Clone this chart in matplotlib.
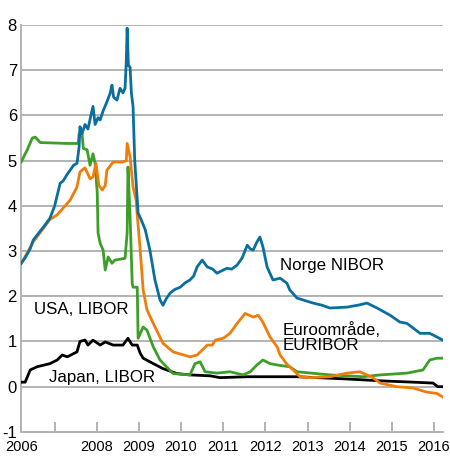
import numpy as np
import matplotlib.pyplot as plt

plt.rcParams['font.family'] = ['Liberation Sans', 'DejaVu Sans']
plt.rcParams['axes.unicode_minus'] = False

# decimal years / percent
nibor_x = [2006.205, 2006.30, 2006.42, 2006.49, 2006.58, 2006.75, 2006.89, 2007.00, 2007.13, 2007.20,
           2007.30, 2007.45, 2007.53, 2007.58, 2007.60, 2007.65, 2007.72, 2007.79, 2007.86, 2007.91,
           2007.96, 2008.03, 2008.08, 2008.15, 2008.24, 2008.32, 2008.36, 2008.40, 2008.48, 2008.55,
           2008.62, 2008.67, 2008.70, 2008.72, 2008.75, 2008.79, 2008.82, 2008.86, 2008.90, 2008.93,
           2008.96, 2008.98, 2009.05, 2009.15, 2009.26, 2009.38, 2009.50, 2009.57, 2009.65, 2009.74,
           2009.85, 2009.98, 2010.10, 2010.21, 2010.30, 2010.38, 2010.50, 2010.62, 2010.75, 2010.85,
           2011.00, 2011.09, 2011.20, 2011.33, 2011.45, 2011.57, 2011.64, 2011.71, 2011.80, 2011.87,
           2011.94, 2012.04, 2012.18, 2012.35, 2012.51, 2012.58, 2012.75, 2013.13, 2013.35, 2013.53,
           2013.94, 2014.24, 2014.41, 2014.65, 2014.96, 2015.19, 2015.36, 2015.67, 2015.90, 2016.07,
           2016.21]
nibor_y = [2.73, 2.85, 3.05, 3.24, 3.35, 3.55, 3.73, 4.00, 4.50, 4.55,
           4.70, 4.90, 4.94, 5.30, 5.75, 5.60, 5.80, 5.70, 6.00, 6.20,
           5.80, 5.95, 5.90, 6.10, 6.30, 6.50, 6.67, 6.40, 6.34, 6.60,
           6.50, 6.60, 7.20, 7.93, 7.10, 7.07, 6.50, 6.20, 5.00, 4.57,
           4.13, 3.84, 3.70, 3.47, 3.02, 2.36, 1.92, 1.80, 1.95, 2.07,
           2.15, 2.20, 2.30, 2.36, 2.45, 2.65, 2.80, 2.65, 2.60, 2.51,
           2.58, 2.62, 2.60, 2.69, 2.85, 3.13, 3.05, 3.02, 3.20, 3.31,
           3.10, 2.65, 2.36, 2.40, 2.29, 2.14, 1.96, 1.85, 1.80, 1.74,
           1.76, 1.81, 1.85, 1.74, 1.58, 1.43, 1.40, 1.18, 1.18, 1.10,
           1.03]

euribor_x = [2006.205, 2006.49, 2006.89, 2007.06, 2007.37, 2007.53, 2007.60, 2007.72, 2007.84, 2007.91,
             2007.98, 2008.05, 2008.13, 2008.20, 2008.24, 2008.39, 2008.62, 2008.70, 2008.72, 2008.79,
             2008.86, 2008.93, 2009.03, 2009.10, 2009.19, 2009.34, 2009.57, 2009.81, 2010.21, 2010.38,
             2010.50, 2010.62, 2010.74, 2010.81, 2011.00, 2011.16, 2011.33, 2011.52, 2011.71, 2011.83,
             2011.94, 2012.11, 2012.28, 2012.35, 2012.51, 2012.66, 2012.82, 2013.06, 2013.53, 2013.94,
             2014.24, 2014.41, 2014.55, 2014.72, 2015.12, 2015.50, 2015.83, 2016.07, 2016.21]
euribor_y = [2.72, 3.20, 3.70, 3.80, 4.13, 4.42, 4.75, 4.84, 4.60, 4.64,
             4.94, 4.45, 4.35, 4.45, 4.79, 4.97, 4.97, 5.00, 5.38, 5.08,
             4.42, 4.13, 3.02, 2.14, 1.70, 1.40, 0.96, 0.77, 0.66, 0.70,
             0.81, 0.92, 0.92, 1.03, 1.07, 1.18, 1.40, 1.62, 1.54, 1.58,
             1.43, 1.10, 0.88, 0.70, 0.50, 0.37, 0.22, 0.20, 0.22, 0.30,
             0.33, 0.26, 0.20, 0.08, 0.00, -0.03, -0.12, -0.15, -0.23]

usa_x = [2006.205, 2006.35, 2006.47, 2006.54, 2006.66, 2007.30, 2007.56, 2007.58, 2007.65, 2007.68,
         2007.77, 2007.84, 2007.91, 2007.96, 2008.01, 2008.03, 2008.08, 2008.15, 2008.20, 2008.27,
         2008.36, 2008.43, 2008.67, 2008.72, 2008.74, 2008.79, 2008.84, 2008.86, 2008.96, 2008.98,
         2009.10, 2009.19, 2009.34, 2009.50, 2009.81, 2010.21, 2010.33, 2010.45, 2010.57, 2010.85,
         2011.16, 2011.47, 2011.64, 2011.80, 2011.94, 2012.11, 2012.28, 2012.58, 2012.75, 2013.53,
         2014.32, 2014.72, 2015.36, 2015.74, 2015.90, 2016.07, 2016.21]
usa_y = [4.97, 5.24, 5.50, 5.52, 5.40, 5.38, 5.38, 5.60, 5.60, 5.27,
         5.24, 4.90, 5.15, 4.94, 4.30, 3.40, 3.17, 3.02, 2.58, 2.87,
         2.73, 2.80, 2.84, 3.40, 4.86, 3.75, 2.29, 2.20, 2.20, 1.07,
         1.32, 1.25, 0.88, 0.59, 0.29, 0.26, 0.51, 0.55, 0.33, 0.30,
         0.33, 0.26, 0.33, 0.48, 0.59, 0.51, 0.48, 0.44, 0.33, 0.26,
         0.22, 0.26, 0.30, 0.37, 0.59, 0.63, 0.63]

japan_x = [2006.205, 2006.30, 2006.42, 2006.58, 2006.89, 2007.06, 2007.18, 2007.30, 2007.53, 2007.60,
           2007.72, 2007.79, 2007.91, 2008.08, 2008.20, 2008.39, 2008.62, 2008.74, 2008.84, 2008.96,
           2009.03, 2009.10, 2009.34, 2009.57, 2009.90, 2010.21, 2010.69, 2010.92, 2011.57, 2012.75,
           2013.94, 2014.72, 2015.50, 2015.98, 2016.09, 2016.21]
japan_y = [0.10, 0.10, 0.37, 0.44, 0.51, 0.59, 0.70, 0.66, 0.77, 1.00,
           1.03, 0.92, 1.03, 0.92, 0.99, 0.92, 0.92, 1.07, 0.92, 0.92,
           0.74, 0.63, 0.51, 0.40, 0.29, 0.26, 0.24, 0.20, 0.22, 0.22,
           0.17, 0.13, 0.10, 0.08, 0.00, 0.00]

tick_years = [2006.205, 2007, 2008, 2009, 2010, 2011, 2012, 2013, 2014, 2015, 2016]
tick_labels = ['2006', '', '2008', '2009', '2010', '2011', '2012', '2013', '2014', '2015', '2016']

grey = '#b3b3b3'
fig = plt.figure(figsize=(4.5, 4.72), dpi=100)
ax = fig.add_axes([0.047, 0.085, 0.937, 0.862])

for v in range(0, 9):
    ax.axhline(v, color=grey, lw=1.4, zorder=1)

lw = 2.0
ax.plot(japan_x, japan_y, color='black', lw=lw, zorder=3)
ax.plot(usa_x, usa_y, color='#3d9e28', lw=lw, zorder=4)
ax.plot(euribor_x, euribor_y, color='#f07d0a', lw=lw, zorder=5)
ax.plot(nibor_x, nibor_y, color='#0a6e9e', lw=lw, zorder=6)

ax.set_xlim(2006.205, 2016.21)
ax.set_ylim(-1, 8)
ax.set_yticks(range(-1, 9))
ax.set_xticks(tick_years)
ax.set_xticklabels(tick_labels)

for s in ['top', 'right']:
    ax.spines[s].set_visible(False)
for s in ['left', 'bottom']:
    ax.spines[s].set_color(grey)
    ax.spines[s].set_linewidth(1.4)

ax.tick_params(axis='y', length=0, pad=3, labelsize=12)
ax.tick_params(axis='x', direction='in', length=7, width=1.4, color=grey, pad=6, labelsize=10.5)

fs = 12.2
ax.text(2012.35, 2.69, 'Norge NIBOR', fontsize=fs, va='center', ha='left')
ax.text(2006.5, 1.70, 'USA, LIBOR', fontsize=fs, va='center', ha='left')
ax.text(2006.87, 0.21, 'Japan, LIBOR', fontsize=fs, va='center', ha='left')
ax.text(2012.42, 1.09, 'Euroområde,\nEURIBOR', fontsize=fs, va='center', ha='left', linespacing=0.95)

plt.savefig('out.png', dpi=100)
